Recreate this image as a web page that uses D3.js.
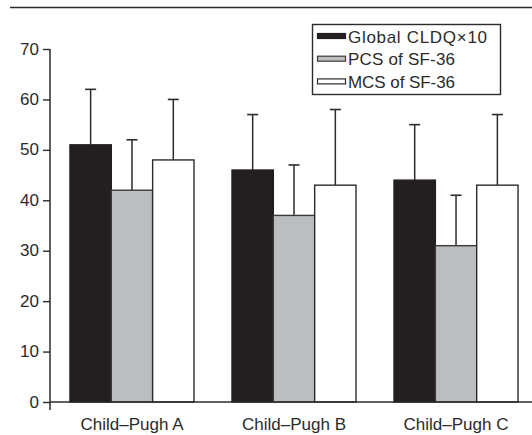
<!DOCTYPE html>
<html>
<head>
<meta charset="utf-8">
<script src="https://cdn.jsdelivr.net/npm/d3@7"></script>
<style>
  html, body { margin: 0; padding: 0; background: #fff; }
  svg { display: block; }
  text { font-family: "Liberation Sans", Arial, Helvetica, sans-serif; fill: #2b2b2b; }
</style>
</head>
<body>
<script>
// ---- data ----
const categories = ["Child\u2013Pugh A", "Child\u2013Pugh B", "Child\u2013Pugh C"];
const seriesNames = ["Global CLDQ\u00d710", "PCS of SF-36", "MCS of SF-36"];
const cldqMean = [51, 46, 44];
const cldqSD   = [11, 11, 11];
const pcsMean  = [42, 37, 31];
const pcsSD    = [10, 10, 10];
const mcsMean  = [48, 43, 43];
const mcsSD    = [12, 15, 14];
const yTicks   = [0, 10, 20, 30, 40, 50, 60, 70];

const seriesMeans = [cldqMean, pcsMean, mcsMean];
const seriesSDs   = [cldqSD, pcsSD, mcsSD];
const fills   = ["#231f20", "#bcbdbf", "#ffffff"];
const strokes = ["#231f20", "#3a3a3a", "#2b2b2b"];
const legendWidths = [139, 107, 107];

const W = 532, H = 435;
const svg = d3.select("body").append("svg").attr("width", W).attr("height", H);

const x0 = d3.scaleBand().domain(categories).range([51, 537]).paddingInner(0.2346).paddingOuter(0.117);
const x1 = d3.scaleBand().domain(seriesNames).range([0, x0.bandwidth()]).padding(0);
const y = d3.scaleLinear().domain([0, 70]).range([402, 49]);

const ink = "#2b2b2b";

// top rule
svg.append("line").attr("x1", 10).attr("x2", W).attr("y1", 7.5).attr("y2", 7.5)
  .attr("stroke", ink).attr("stroke-width", 1.6);

// bars
const rows = [];
categories.forEach((c, i) => {
  seriesNames.forEach((s, j) => {
    rows.push({ cat: c, ser: s, j: j, mean: seriesMeans[j][i], sd: seriesSDs[j][i] });
  });
});

const g = svg.append("g");
rows.forEach(d => {
  const cx = x0(d.cat) + x1(d.ser) + x1.bandwidth() / 2;
  g.append("line").attr("x1", cx).attr("x2", cx)
    .attr("y1", y(d.mean)).attr("y2", y(d.mean + d.sd))
    .attr("stroke", ink).attr("stroke-width", 1.5);
  g.append("line").attr("x1", cx - 5.5).attr("x2", cx + 5.5)
    .attr("y1", y(d.mean + d.sd)).attr("y2", y(d.mean + d.sd))
    .attr("stroke", ink).attr("stroke-width", 1.6);
});
rows.forEach(d => {
  g.append("rect")
    .attr("x", x0(d.cat) + x1(d.ser))
    .attr("y", y(d.mean))
    .attr("width", x1.bandwidth())
    .attr("height", y(0) - y(d.mean))
    .attr("fill", fills[d.j])
    .attr("stroke", strokes[d.j])
    .attr("stroke-width", 1.4);
});

// y axis
const yAxis = d3.axisLeft(y).tickValues(yTicks).tickSize(7).tickSizeOuter(0).tickPadding(4);
const ya = svg.append("g").attr("transform", "translate(50,0)").call(yAxis);
ya.select(".domain").remove();
ya.selectAll(".tick line").attr("stroke", ink).attr("stroke-width", 1.4);
ya.selectAll(".tick text").attr("font-size", 17).attr("fill", ink)
  .attr("font-family", "Liberation Sans, Arial, sans-serif").attr("dy", "0.3em");
svg.append("line").attr("x1", 50).attr("x2", 50).attr("y1", y(70)).attr("y2", 410)
  .attr("stroke", ink).attr("stroke-width", 1.5);

// x baseline
svg.append("line").attr("x1", 50).attr("x2", W).attr("y1", y(0)).attr("y2", y(0))
  .attr("stroke", ink).attr("stroke-width", 1.5);

// x category labels
const xAxis = d3.axisBottom(x0).tickSize(0).tickPadding(0);
const xa = svg.append("g").call(xAxis);
xa.select(".domain").remove();
xa.selectAll(".tick text").attr("y", 430).attr("dy", 0).attr("font-size", 17).attr("fill", ink)
  .attr("font-family", "Liberation Sans, Arial, sans-serif");

// legend
const lg = svg.append("g");
lg.append("rect").attr("x", 312.5).attr("y", 24.5).attr("width", 188).attr("height", 70)
  .attr("fill", "#fff").attr("stroke", ink).attr("stroke-width", 1.4);
seriesNames.forEach((s, j) => {
  const base = 42.5 + j * 22.7;
  lg.append("rect").attr("x", 317.5).attr("y", base - 9).attr("width", 28).attr("height", 5)
    .attr("fill", fills[j]).attr("stroke", strokes[j]).attr("stroke-width", 1.2);
  lg.append("text").attr("x", 348).attr("y", base).attr("font-size", 17).attr("fill", ink)
    .attr("textLength", legendWidths[j]).attr("lengthAdjust", "spacing").text(s);
});
</script>
</body>
</html>
